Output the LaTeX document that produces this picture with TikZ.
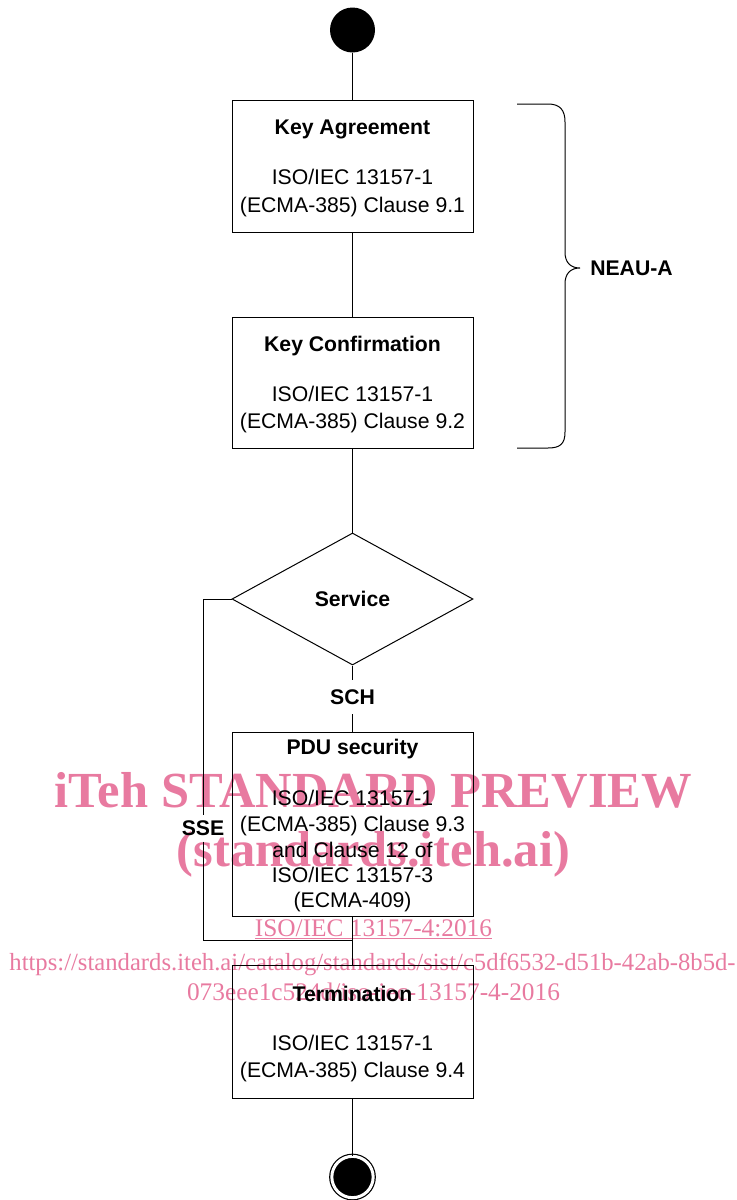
\documentclass[tikz,border=0pt]{standalone}
\usepackage{fontspec}
\setmainfont{Liberation Sans}
\newfontfamily\wmfont{Liberation Serif}
\usetikzlibrary{shapes.geometric}
\definecolor{wmpink}{RGB}{232,122,160}

\begin{document}
\begin{tikzpicture}[x=0.75pt,y=-0.75pt]
      \tikzstyle{state}=[rectangle, draw=black, line width=0.75pt, minimum width=180.75pt, inner sep=0pt]
      \tikzstyle{choice}=[diamond, draw=black, line width=0.75pt, aspect=1.83, minimum width=180.75pt, minimum height=99pt, inner sep=0pt, font=\fontsize{15.9}{18}\selectfont\bfseries]
      \tikzstyle{initial}=[circle, fill=black, minimum size=33.75pt, inner sep=0pt]
      \tikzstyle{final}=[circle, fill=black, draw=black, line width=0.9pt, double=white, double distance=2.25pt, minimum size=31pt, inner sep=0pt]
      \tikzstyle{txt}=[inner sep=0pt, anchor=base, font=\fontsize{15.9}{18}\selectfont]
      \tikzstyle{ttl}=[inner sep=0pt, anchor=base, font=\fontsize{15.9}{18}\selectfont\bfseries]
      \tikzstyle{guard}=[inner xsep=2pt, font=\fontsize{15.9}{18}\selectfont\bfseries]
      \tikzstyle{connect}=[line width=0.75pt]
      \tikzstyle{wmbig}=[inner sep=0pt, anchor=base, text=wmpink, font=\wmfont\fontsize{37.9}{40}\selectfont\bfseries]
      \tikzstyle{wmsmall}=[inner sep=0pt, anchor=base, text=wmpink, font=\wmfont\fontsize{19}{21}\selectfont]

      \useasboundingbox (0,0) rectangle (736,1200);

      % watermark
      \node[wmbig] (wm1) at (373.5,807) {iTeh STANDARD PREVIEW};
      \node[wmbig] (wm2) at (373.5,866) {(standards.iteh.ai)};
      \node[wmsmall] (wm3) at (373.5,936) {\underline{ISO/IEC 13157-4:2016}};
      \node[wmsmall, font=\wmfont\fontsize{18.5}{21}\selectfont] (wm4) at (372.5,970) {https://standards.iteh.ai/catalog/standards/sist/c5df6532-d51b-42ab-8b5d-};
      \node[wmsmall] (wm5) at (373.5,1000) {073eee1c524d/iso-iec-13157-4-2016};

      % states
      \node[initial] (start) at (352.5,30) {};
      \node[state, minimum height=99pt] (ka) at (352.5,166) {};
      \node[state, minimum height=98.25pt] (kc) at (352.5,382.5) {};
      \node[choice] (svc) at (352.5,599) {Service};
      \node[state, minimum height=138pt] (pdu) at (352.5,824) {};
      \node[state, minimum height=99.75pt] (term) at (352.5,1031.5) {};
      \node[final] (stop) at (352.5,1177) {};

      % texts
      \node[ttl] (ka-t) at (352.5,134) {Key Agreement};
      \node[txt] (ka-1) at (352.5,184) {ISO/IEC 13157-1};
      \node[txt] (ka-2) at (352.5,212) {(ECMA-385) Clause 9.1};

      \node[ttl] (kc-t) at (352.5,351) {Key Confirmation};
      \node[txt] (kc-1) at (352.5,401) {ISO/IEC 13157-1};
      \node[txt] (kc-2) at (352.5,428) {(ECMA-385) Clause 9.2};

      \node[ttl] (pdu-t) at (352.5,754) {PDU security};
      \node[txt] (pdu-1) at (352.5,805) {ISO/IEC 13157-1};
      \node[txt] (pdu-2) at (352.5,831) {(ECMA-385) Clause 9.3};
      \node[txt] (pdu-3) at (352.5,857) {and Clause 12 of};
      \node[txt] (pdu-4) at (352.5,882) {ISO/IEC 13157-3};
      \node[txt] (pdu-5) at (352.5,907) {(ECMA-409)};

      \node[ttl] (term-t) at (352.5,1001) {Termination};
      \node[txt] (term-1) at (352.5,1050) {ISO/IEC 13157-1};
      \node[txt] (term-2) at (352.5,1077) {(ECMA-385) Clause 9.4};

      % guards
      \node[guard, inner ysep=7pt] (sch) at (352.5,697) {SCH};
      \node[guard, inner ysep=4pt] (sse) at (203,828.5) {SSE};
      \coordinate (join) at (352.5,940);

      \path (start) edge [connect] (ka)
        (ka) edge [connect] (kc)
        (kc) edge [connect] (svc.north)
        (svc.south) edge [connect] (sch.north)
        (sch.south) edge [connect] (pdu.north)
        (pdu) edge [connect] (term)
        (term) edge [connect] (stop);

      \draw[connect] (svc.west) -| (sse.north);
      \draw[connect] (sse.south) |- (join);

      % brace
      \draw[connect] (517,104) -- (548,104) .. controls (560,104) and (565,110) .. (565,122)
        -- (565,252) .. controls (565,262) and (570,268) .. (580,268)
        .. controls (570,268) and (565,274) .. (565,284)
        -- (565,432) .. controls (565,444) and (560,448) .. (548,448) -- (517,448);
      \node[ttl, anchor=base west] (neau) at (590,275) {NEAU-A};

    \end{tikzpicture}
\end{document}
